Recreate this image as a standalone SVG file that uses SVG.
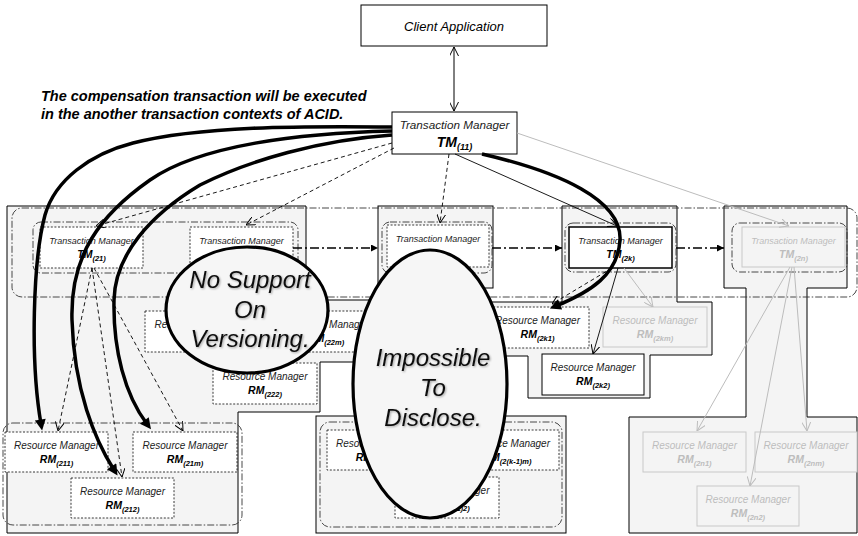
<svg xmlns="http://www.w3.org/2000/svg" width="858" height="536" viewBox="0 0 858 536">
<defs>
<style>
text{font-family:"Liberation Sans",Arial,Helvetica,sans-serif;font-style:italic;text-anchor:middle}
.t{font-size:9px;fill:#222}
.r{font-size:10px;fill:#222}
.l{font-size:10.5px;font-weight:bold;fill:#000}
.s{font-size:7.5px}
.g{fill:#bdbdbd}
.note{font-size:14.5px;font-weight:bold;text-anchor:start;fill:#000}
.big{font-size:24px;fill:#111;filter:url(#soft)}
.cont{fill:#f4f4f4;stroke:#000;stroke-width:1}
.grp{fill:none;stroke:#333;stroke-width:0.9;stroke-dasharray:7 2 1.5 2}
.dbox{fill:#fff;stroke:#222;stroke-width:0.9;stroke-dasharray:2 1.6}
.sbox{fill:#fff;stroke:#000;stroke-width:1}
.gbox{fill:#f4f4f4;stroke:#c8c8c8;stroke-width:1}
.thick{fill:none;stroke:#000;stroke-width:3.5;marker-end:url(#bighead)}
.dash{fill:none;stroke:#000;stroke-width:0.9;stroke-dasharray:4 3;marker-end:url(#open)}
.thin{fill:none;stroke:#000;stroke-width:0.9;marker-end:url(#open)}
.gline{fill:none;stroke:#bcbcbc;stroke-width:1;marker-end:url(#opengray)}
.flow{fill:none;stroke:#000;stroke-width:1.4;stroke-dasharray:9 3 2 3;marker-end:url(#flowhead)}
.oval{fill:#f6f6f6;stroke:#000;stroke-width:3.2}
</style>
<!-- faint shadow under the large callout lettering -->
<filter id="soft" x="-10%" y="-30%" width="120%" height="160%">
  <feGaussianBlur in="SourceAlpha" stdDeviation="0.8"/>
  <feOffset dx="1.2" dy="1.2" result="sh"/>
  <feComponentTransfer in="sh" result="shl"><feFuncA type="linear" slope="0.35"/></feComponentTransfer>
  <feMerge><feMergeNode in="shl"/><feMergeNode in="SourceGraphic"/></feMerge>
</filter>
<marker id="open" viewBox="0 0 10 10" refX="10" refY="5" markerWidth="9" markerHeight="9" markerUnits="userSpaceOnUse" orient="auto-start-reverse">
  <path d="M0,0 L10,5 L0,10" fill="none" stroke="#000" stroke-width="1.1"/>
</marker>
<marker id="opengray" viewBox="0 0 10 10" refX="10" refY="5" markerWidth="9" markerHeight="9" markerUnits="userSpaceOnUse" orient="auto">
  <path d="M0,0 L10,5 L0,10" fill="none" stroke="#bcbcbc" stroke-width="1.1"/>
</marker>
<marker id="bighead" viewBox="0 0 10 10" refX="4" refY="5" markerWidth="14" markerHeight="11" markerUnits="userSpaceOnUse" orient="auto">
  <path d="M0,0 L10,5 L0,10 Z" fill="#000"/>
</marker>
<marker id="flowhead" viewBox="0 0 10 10" refX="10" refY="5" markerWidth="8" markerHeight="7" markerUnits="userSpaceOnUse" orient="auto">
  <path d="M0,0 L10,5 L0,10 Z" fill="#000"/>
</marker>
</defs>

<!-- shaded domains of the sub-transaction managers -->
<g id="domains">
  <path class="cont" d="M7,206 H306 V300 H392 V362 H320 V412 H238 V533 H7 Z"/>
  <rect class="cont" x="378" y="206" width="115" height="82"/>
  <path class="cont" d="M562,206 H677 V302 H712 V355 H650 V398 H528 V356 H488 V302 H562 Z"/>
  <path class="cont" d="M724,206 H847 V288 H807 V417 H857 V533 H629 V417 H746 V288 H724 Z"/>
  <rect class="cont" x="316" y="416" width="250" height="117"/>
</g>

<!-- transaction context boundaries -->
<g id="contexts">
  <rect class="grp" x="12" y="208" width="845" height="89" rx="10"/>
  <rect class="grp" x="33" y="222" width="265" height="51" rx="8"/>
  <rect class="grp" x="382" y="222" width="110" height="51" rx="8"/>
  <rect class="grp" x="565" y="223" width="111" height="49" rx="8"/>
  <rect class="grp" x="732" y="223" width="115" height="49" rx="8"/>
  <rect class="grp" x="3" y="423" width="239" height="102" rx="10"/>
  <rect class="grp" x="320" y="422" width="242" height="105" rx="10"/>
</g>

<text class="note" x="41" y="101">The compensation transaction will be executed</text>
<text class="note" x="41" y="119">in the another transaction contexts of ACID.</text>

<g id="client">
  <rect class="sbox" x="361" y="5" width="186" height="41"/>
  <text x="454" y="31" style="font-size:13px">Client Application</text>
</g>

<g id="tm11">
  <rect class="sbox" x="392" y="112" width="125" height="42"/>
  <text x="454.5" y="129" style="font-size:11.7px;fill:#222">Transaction Manager</text>
  <text x="454.5" y="147" class="l" style="font-size:14px">TM<tspan dy="3" style="font-size:9px">(11)</tspan></text>
</g>

<g id="tm21">
  <rect class="dbox" x="40" y="227" width="103" height="41"/>
  <text class="t" x="91.5" y="244">Transaction Manager</text>
  <text class="l" x="91.5" y="258">TM<tspan class="s" dy="2.5">(21)</tspan></text>
</g>
<g id="tm22">
  <rect class="dbox" x="190" y="227" width="103" height="41"/>
  <text class="t" x="241.5" y="244">Transaction Manager</text>
</g>
<g id="tm2x">
  <rect class="dbox" x="387" y="225" width="102" height="42"/>
  <text class="t" x="438" y="242">Transaction Manager</text>
</g>
<g id="tm2k">
  <rect x="569" y="227" width="103" height="41" fill="#fff" stroke="#000" stroke-width="1.5"/>
  <text class="t" x="620.5" y="244">Transaction Manager</text>
  <text class="l" x="620.5" y="258">TM<tspan class="s" dy="2.5">(2k)</tspan></text>
</g>
<g id="tm2n">
  <rect class="gbox" x="742" y="227" width="103" height="40"/>
  <text class="t g" x="793.5" y="244">Transaction Manager</text>
  <text class="l g" x="793.5" y="258">TM<tspan class="s" dy="2.5">(2n)</tspan></text>
</g>

<g id="rm221">
  <rect class="dbox" x="145" y="311" width="104" height="41"/>
  <text class="r" x="197" y="328">Resource Manager</text>
</g>
<g id="rm22m">
  <rect class="dbox" x="274" y="311" width="104" height="41"/>
  <text class="r" x="326" y="328">Resource Manager</text>
  <text class="l" x="326" y="342">RM<tspan class="s" dy="2.5">(22m)</tspan></text>
</g>
<g id="rm222">
  <rect class="dbox" x="213" y="363" width="104" height="41"/>
  <text class="r" x="265" y="380">Resource Manager</text>
  <text class="l" x="265" y="394">RM<tspan class="s" dy="2.5">(222)</tspan></text>
</g>

<g id="rm2k1">
  <rect class="dbox" x="486" y="307" width="103" height="41"/>
  <text class="r" x="537.5" y="324">Resource Manager</text>
  <text class="l" x="537.5" y="338">RM<tspan class="s" dy="2.5">(2k1)</tspan></text>
</g>
<g id="rm2km">
  <rect class="gbox" x="603" y="307" width="104" height="40"/>
  <text class="r g" x="655" y="324">Resource Manager</text>
  <text class="l g" x="655" y="338">RM<tspan class="s" dy="2.5">(2km)</tspan></text>
</g>
<g id="rm2k2">
  <rect class="sbox" x="542" y="354" width="102" height="41"/>
  <text class="r" x="593" y="371">Resource Manager</text>
  <text class="l" x="593" y="385">RM<tspan class="s" dy="2.5">(2k2)</tspan></text>
</g>

<g id="rm211">
  <rect class="dbox" x="5" y="432" width="103" height="40"/>
  <text class="r" x="56.5" y="449">Resource Manager</text>
  <text class="l" x="56.5" y="463">RM<tspan class="s" dy="2.5">(211)</tspan></text>
</g>
<g id="rm21m">
  <rect class="dbox" x="133" y="432" width="104" height="40"/>
  <text class="r" x="185" y="449">Resource Manager</text>
  <text class="l" x="185" y="463">RM<tspan class="s" dy="2.5">(21m)</tspan></text>
</g>
<g id="rm212">
  <rect class="dbox" x="71" y="478" width="103" height="40"/>
  <text class="r" x="122.5" y="495">Resource Manager</text>
  <text class="l" x="122.5" y="509">RM<tspan class="s" dy="2.5">(212)</tspan></text>
</g>

<g id="rm2k11">
  <rect class="dbox" x="327" y="430" width="103" height="40"/>
  <text class="r" x="378.5" y="447">Resource Manager</text>
  <text class="l" x="378.5" y="461">RM<tspan class="s" dy="2.5">(2(k-1)1)</tspan></text>
</g>
<g id="rm2k1m">
  <rect class="dbox" x="456" y="430" width="103" height="40"/>
  <text class="r" x="507.5" y="447">Resource Manager</text>
  <text class="l" x="507.5" y="461">RM<tspan class="s" dy="2.5">(2(k-1)m)</tspan></text>
</g>
<g id="rm2k12">
  <rect class="dbox" x="395" y="477" width="104" height="41"/>
  <text class="r" x="447" y="494">Resource Manager</text>
  <text class="l" x="447" y="508">RM<tspan class="s" dy="2.5">(2(k-1)2)</tspan></text>
</g>

<g id="rm2n1">
  <rect class="gbox" x="643" y="432" width="103" height="40"/>
  <text class="r g" x="694.5" y="449">Resource Manager</text>
  <text class="l g" x="694.5" y="463">RM<tspan class="s" dy="2.5">(2n1)</tspan></text>
</g>
<g id="rm2nm">
  <rect class="gbox" x="755" y="432" width="102" height="40"/>
  <text class="r g" x="806" y="449">Resource Manager</text>
  <text class="l g" x="806" y="463">RM<tspan class="s" dy="2.5">(2nm)</tspan></text>
</g>
<g id="rm2n2">
  <rect class="gbox" x="697" y="486" width="102" height="40"/>
  <text class="r g" x="748" y="503">Resource Manager</text>
  <text class="l g" x="748" y="517">RM<tspan class="s" dy="2.5">(2n2)</tspan></text>
</g>

<g id="connectors">
  <line x1="454" y1="47" x2="454" y2="111" stroke="#000" stroke-width="1" marker-start="url(#open)" marker-end="url(#open)"/>
  <!-- propagation along the chain of sub-transaction managers -->
  <path class="flow" d="M293,248 H378"/>
  <path class="flow" d="M492,248 H562"/>
  <path class="flow" d="M676,248 H724"/>
  <!-- TM(11) to its subordinates -->
  <path class="dash" d="M392,143 L96,226"/>
  <path class="dash" d="M394,148 L246,225"/>
  <path class="dash" d="M449,154 L440,223"/>
  <path class="thin" d="M455,154 L617,226"/>
  <path class="gline" d="M517,133 L789,226"/>
  <!-- TM(21) to its resource managers -->
  <path class="dash" d="M92,268 L58,431"/>
  <path class="dash" d="M92,268 L122,477"/>
  <path class="dash" d="M94,268 L183,431"/>
  <!-- TM(2k) to its resource managers -->
  <path class="dash" d="M612,268 L552,304"/>
  <path class="thin" d="M618,268 L593,354"/>
  <path class="gline" d="M624,268 L653,307"/>
  <!-- TM(2n) to its resource managers -->
  <path class="gline" d="M790,267 L697,431"/>
  <path class="gline" d="M792,267 L750,486"/>
  <path class="gline" d="M794,267 L807,431"/>
  <!-- compensation calls -->
  <path class="thick" d="M392,127 C300,126 200,126 133,143 C90,154 55,180 45,215 C33,260 30,360 41,424"/>
  <path class="thick" d="M392,131 C300,133 200,145 150,180 C100,215 70,255 72,320 C74,390 95,440 114,470"/>
  <path class="thick" d="M392,135 C320,140 250,160 200,185 C150,215 115,255 114,300 C113,350 125,395 147,424"/>
  <path class="thick" d="M482,154 C560,172 622,200 620,240 C618,275 590,292 556,306"/>
</g>

<g id="no-versioning">
  <ellipse class="oval" cx="247" cy="310" rx="81" ry="63"/>
  <text class="big" x="250" y="288">No Support</text>
  <text class="big" x="250" y="318">On</text>
  <text class="big" x="250" y="347">Versioning.</text>
</g>
<g id="no-disclosure">
  <ellipse class="oval" cx="430" cy="384" rx="77" ry="134"/>
  <text class="big" x="433" y="366">Impossible</text>
  <text class="big" x="433" y="396">To</text>
  <text class="big" x="433" y="426">Disclose.</text>
</g>
</svg>
